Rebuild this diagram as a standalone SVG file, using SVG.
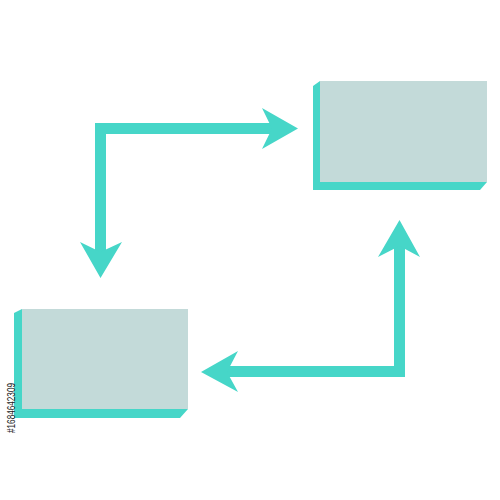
<svg xmlns="http://www.w3.org/2000/svg" width="500" height="500" viewBox="0 0 500 500">
<style>
.face{fill:#c3dad9}
.side{fill:#46d6c8}
.bar{fill:none;stroke:#46d6c8;stroke-width:11;stroke-linejoin:miter}
.head{fill:#46d6c8}
.id{font-family:"Liberation Sans Narrow","Liberation Sans",Arial,sans-serif;font-size:10px;fill:#222}
</style>
<rect width="500" height="500" fill="#ffffff"/>
<g id="box-top-right">
<polygon class="side" points="320,81 313,86 313,190 480,190 487,182 320,182"/>
<rect class="face" x="320" y="81" width="167" height="101"/>
</g>
<g id="box-bottom-left">
<polygon class="side" points="22,309 14,313 14,418 180,418 188,409 22,409"/>
<rect class="face" x="22" y="309" width="166" height="100"/>
</g>
<g id="connectors">
<path class="bar" d="M276,128.5 H100.5 V256"/>
<path class="head" d="M298,128.5 L262,108 L272,128.5 L262,149 Z"/>
<path class="head" d="M100.5,278 L80,242 L100.5,252 L122,242 Z"/>
<path class="bar" d="M399.5,242 V371.5 H222"/>
<path class="head" d="M399.5,220 L378,257 L399.5,246 L420,257 Z"/>
<path class="head" d="M201,372 L238,351 L227,372 L238,392 Z"/>
</g>
<text class="id" transform="translate(15,433) rotate(-90)" textLength="50" lengthAdjust="spacingAndGlyphs">#1684642309</text>
</svg>
